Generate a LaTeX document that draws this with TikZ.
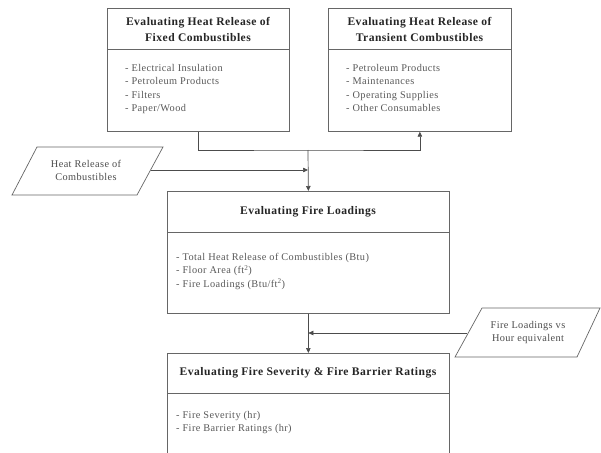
\documentclass[tikz,border=0pt]{standalone}
\usepackage{fontspec}
\setmainfont{Liberation Serif}
\newfontfamily\widefont[LetterSpace=4]{Liberation Serif}
\usetikzlibrary{arrows.meta}

\begin{document}
\begin{tikzpicture}[x=1pt,y=-1pt,
  box/.style={draw=black!60,line width=0.7pt,anchor=north west,inner sep=0pt,minimum width=182pt},
  head/.style={font=\widefont\fontsize{11.6}{16}\selectfont\bfseries,text=black!85,align=center,inner sep=0pt},
  items/.style={font=\widefont\fontsize{10.3}{13.4}\selectfont,text=black!65,align=left,anchor=north west,inner sep=0pt},
  note/.style={font=\widefont\fontsize{10.3}{13}\selectfont,text=black!70,align=center,inner sep=0pt},
  flow/.style={draw=black!70,line width=0.7pt,-{Triangle[length=5pt,width=4.5pt]}}]
\useasboundingbox (0,0) rectangle (601,452);
\clip (0,0) rectangle (601,452);
\fill[white] (0,0) rectangle (601,452);

% the two heat release boxes
\node[box,minimum height=123pt] (fixed) at (107,8) {};
\draw[draw=black!60,line width=0.7pt] ([yshift=-41pt]fixed.north west) -- ([yshift=-41pt]fixed.north east);
\node[head] (fixedhead) at (198,29) {Evaluating Heat Release of\\Fixed Combustibles};
\node[items] (fixeditems) at (125,64) {- Electrical Insulation\\- Petroleum Products\\- Filters\\- Paper/Wood};

\node[box,minimum width=183pt,minimum height=123pt] (transient) at (328,8) {};
\draw[draw=black!60,line width=0.7pt] ([yshift=-41pt]transient.north west) -- ([yshift=-41pt]transient.north east);
\node[head] (transienthead) at (419.5,29) {Evaluating Heat Release of\\Transient Combustibles};
\node[items] (transientitems) at (346,64) {- Petroleum Products\\- Maintenances\\- Operating Supplies\\- Other Consumables};

% fire loadings
\node[box,minimum width=282pt,minimum height=122pt] (loading) at (167,191) {};
\draw[draw=black!60,line width=0.7pt] ([yshift=-41pt]loading.north west) -- ([yshift=-41pt]loading.north east);
\node[head] (loadinghead) at (308,212) {Evaluating Fire Loadings};
\node[items] (loadingitems) at (176,253) {- Total Heat Release of Combustibles (Btu)\\- Floor Area (ft\textsuperscript{2})\\- Fire Loadings (Btu/ft\textsuperscript{2})};

% fire severity (runs off the page)
\node[box,minimum width=282pt,minimum height=130pt] (severity) at (167,353) {};
\draw[draw=black!60,line width=0.7pt] ([yshift=-40pt]severity.north west) -- ([yshift=-40pt]severity.north east);
\node[head] (severityhead) at (308,373) {Evaluating Fire Severity \& Fire Barrier Ratings};
\node[items] (severityitems) at (176,411) {- Fire Severity (hr)\\- Fire Barrier Ratings (hr)};

% input notes
\draw[draw=black!60,line width=0.7pt] (37,147) -- (163,147) -- (137,195) -- (12,195) -- cycle;
\node[note] (heatnote) at (86,170) {Heat Release of\\Combustibles};
\coordinate (heatout) at (150.5,170);

\draw[draw=black!60,line width=0.7pt] (482,308) -- (600,308) -- (577,357) -- (455,357) -- cycle;
\node[note] (hournote) at (528,333) {Fire Loadings vs\\Hour equivalent};
\coordinate (hourout) at (467,333);

% connectors
\coordinate (join) at (308,150);
\draw[flow] (fixed.south) |- (join) -| (transient.south);
\draw[flow] (join) -- (loading.north);
\draw[flow] (heatout) -- (heatout -| join);
\draw[flow] (loading.south) -- (severity.north);
\draw[flow] (hourout) -- (hourout -| severity.north);

\end{tikzpicture}
\end{document}
